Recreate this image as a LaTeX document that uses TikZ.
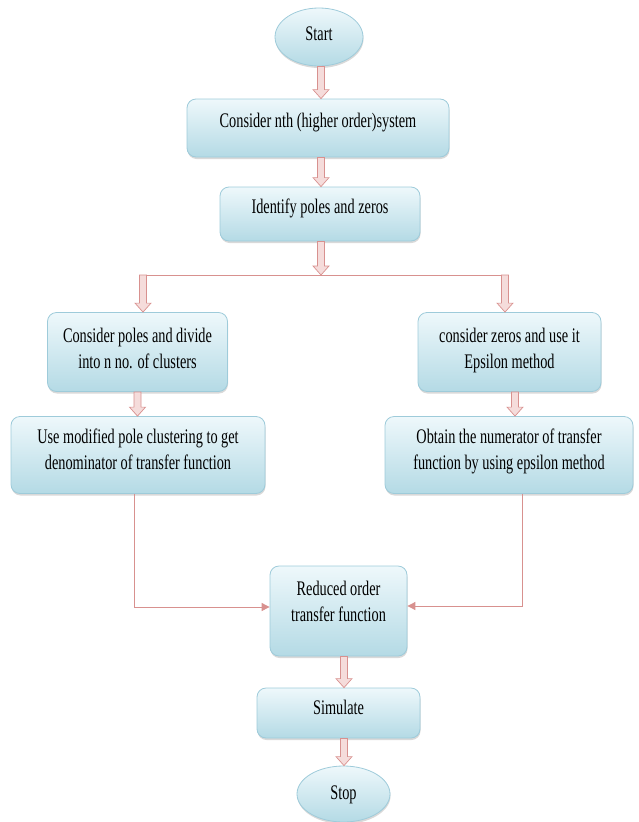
\documentclass[tikz,border=0pt]{standalone}
\usepackage{fontspec}
\setmainfont{Liberation Serif}
\usepackage{graphicx}
\usetikzlibrary{shapes.geometric,shadows,calc,arrows.meta}
\definecolor{bxedge}{HTML}{9ECBDA}
\definecolor{bxtop}{HTML}{EEF8FB}
\definecolor{bxbot}{HTML}{B4DAE5}
\definecolor{arfill}{HTML}{F5DCDB}
\definecolor{aredge}{HTML}{D8918F}
\newcommand\stx[1]{\scalebox{1}[1.45]{\begin{tabular}{@{}c@{}}#1\end{tabular}}}
\newcommand\barrow[2]{\draw[blk] let \p1=(#1), \p2=(#2) in (\x1-3.5pt,\y1) -- (\x1+3.5pt,\y1) -- (\x1+3.5pt,\y2+9pt) -- (\x1+8pt,\y2+9pt) -- (\x1,\y2) -- (\x1-8pt,\y2+9pt) -- (\x1-3.5pt,\y2+9pt) -- cycle;}
\tikzset{
  box/.style={draw=bxedge, line width=0.8pt, rounded corners=9pt, top color=bxtop, bottom color=bxbot,
    drop shadow={shadow xshift=0.5pt, shadow yshift=-2pt, opacity=0.3, fill=gray}, inner sep=0pt},
  oval/.style={ellipse, draw=bxedge, line width=0.8pt, top color=bxtop, bottom color=bxbot,
    drop shadow={shadow xshift=0.5pt, shadow yshift=-2pt, opacity=0.3, fill=gray}, inner sep=0pt},
  txt/.style={font=\fontsize{14.3}{18}\selectfont, inner sep=0pt, text=black},
  blk/.style={draw=aredge, fill=arfill, line width=0.7pt, line join=miter},
  ln/.style={draw=aredge, line width=0.9pt},
}
\begin{document}
\begin{tikzpicture}[x=1pt,y=1pt]
\useasboundingbox (0,0) rectangle (638,-822);
% nodes
\node[oval, minimum width=88pt, minimum height=58pt] (start) at (319,-37) {};
\node[txt] (tstart) at (319,-35) {\stx{Start}};
\node[box, minimum width=262pt, minimum height=58pt] (b1) at (318,-128) {};
\node[txt] (tb1) at (318,-122) {\stx{Consider nth (higher order)system}};
\node[box, minimum width=200pt, minimum height=54pt] (b2) at (320,-214) {};
\node[txt] (tb2) at (320,-208) {\stx{Identify poles and zeros}};
\node[box, minimum width=180pt, minimum height=79pt] (lA) at (137.5,-352) {};
\node[txt] (tlA) at (137.5,-350) {\stx{Consider poles and divide\\into n no. of clusters}};
\node[box, minimum width=183pt, minimum height=79pt] (rA) at (509.5,-352) {};
\node[txt] (trA) at (509.5,-350) {\stx{consider zeros and use it\\Epsilon method}};
\node[box, minimum width=254pt, minimum height=77pt] (lB) at (138,-455) {};
\node[txt] (tlB) at (138,-451) {\stx{Use modified pole clustering to get\\denominator of transfer function}};
\node[box, minimum width=248pt, minimum height=77pt] (rB) at (509,-455) {};
\node[txt] (trB) at (509,-451) {\stx{Obtain the numerator of transfer\\function by using epsilon method}};
\node[box, minimum width=137pt, minimum height=90pt] (red) at (338.5,-611) {};
\node[txt] (tred) at (338.5,-603) {\stx{Reduced order\\transfer function}};
\node[box, minimum width=163pt, minimum height=50pt] (sim) at (338.5,-713) {};
\node[txt] (tsim) at (338.5,-709) {\stx{Simulate}};
\node[oval, minimum width=93pt, minimum height=56pt] (stop) at (343.5,-794) {};
\node[txt] (tstop) at (343.5,-794) {\stx{Stop}};
% split
\coordinate (sp) at (321,-275);
\coordinate (spl) at (143,-275);
\coordinate (spr) at (505,-275);
\draw[ln] (spl) -- (spr);
% block arrows
\barrow{[xshift=2pt]start.south}{b1.north}
\barrow{b1.south -| sp}{b2.north}
\barrow{b2.south -| sp}{sp}
\barrow{spl}{spl |- lA.north}
\barrow{spr}{spr |- rA.north}
\barrow{lA.south}{lB.north}
\barrow{[xshift=5.5pt]rA.south}{rB.north}
\barrow{[xshift=5.5pt]red.south}{sim.north}
\barrow{[xshift=5.5pt]sim.south}{stop.north}
% merge lines
\draw[ln, -{Triangle[length=8pt,width=8pt]}] ([xshift=-4pt]lB.south) |- ([yshift=4pt]red.west);
\draw[ln, -{Triangle[length=8pt,width=8pt]}] ([xshift=13pt]rB.south) |- ([yshift=5pt]red.east);
\end{tikzpicture}
\end{document}
